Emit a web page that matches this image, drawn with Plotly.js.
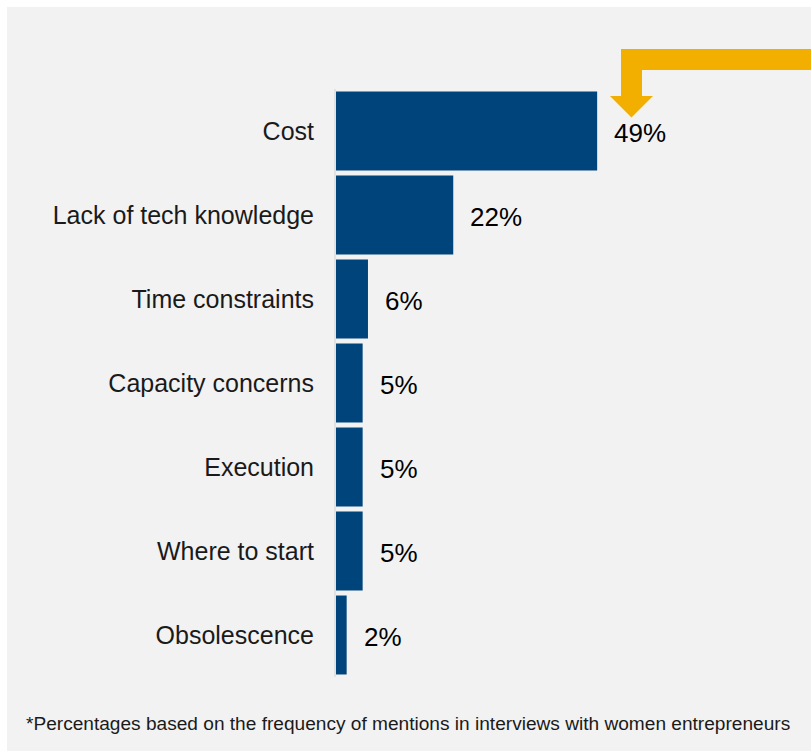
<!DOCTYPE html>
<html>
<head>
<meta charset="utf-8">
<script src="https://cdn.plot.ly/plotly-3.0.1.min.js"></script>
<style>
  html, body { margin: 0; padding: 0; background: #ffffff; overflow: hidden; }
  #chart { position: absolute; left: 7px; top: 7px; width: 804px; height: 744px; }
</style>
</head>
<body>
<div id="chart"></div>
<script>
// ---- data ----
const categories = ["Cost", "Lack of tech knowledge", "Time constraints", "Capacity concerns", "Execution", "Where to start", "Obsolescence"];
const values = [49, 22, 6, 5, 5, 5, 2];
const valueLabels = ["49%", "22%", "6%", "5%", "5%", "5%", "2%"];
const footnote = "*Percentages based on the frequency of mentions in interviews with women entrepreneurs";

// ---- layout geometry ----
const W = 804, H = 744;
const M = {l: 329, r: 6, t: 82, b: 74};
const PW = W - M.l - M.r, PH = H - M.t - M.b;
const OFF = 7; // page offset of the chart div
function px(x) { return (x - OFF - M.l) / PW; }
function py(y) { return 1 - (y - OFF - M.t) / PH; }

const arrowPts = [[830, 49], [621, 49], [621, 96], [610, 96], [631.5, 117.5], [653, 96], [642, 96], [642, 70], [830, 70]];
const arrowPath = arrowPts.map((p, i) => (i ? "L" : "M") + px(p[0]).toFixed(5) + "," + py(p[1]).toFixed(5)).join(" ") + " Z";

const trace = {
  type: "bar",
  orientation: "h",
  y: categories,
  x: values,
  marker: {color: "#00447C"},
  hoverinfo: "none"
};

const annotations = categories.map((c, i) => ({
  x: values[i], y: c, xref: "x", yref: "y",
  text: valueLabels[i], showarrow: false,
  xanchor: "left", yanchor: "middle", xshift: 15, yshift: -2,
  font: {family: "Liberation Sans, Arial, sans-serif", size: 26, color: "#000000"}
}));
annotations.push({
  xref: "paper", yref: "paper",
  x: px(24), y: py(723),
  xanchor: "left", yanchor: "middle",
  text: footnote, showarrow: false,
  font: {family: "Liberation Sans, Arial, sans-serif", size: 19.1, color: "#1a1a1a"}
});

const layout = {
  width: W, height: H,
  margin: M,
  paper_bgcolor: "#f2f2f2",
  plot_bgcolor: "#f2f2f2",
  showlegend: false,
  bargap: 0.06,
  xaxis: {
    range: [0, 88], showgrid: false, zeroline: false,
    showticklabels: false, ticks: "", showline: false, fixedrange: true
  },
  yaxis: {
    autorange: "reversed", showgrid: false, zeroline: false,
    showline: true, linecolor: "#e2e2e2", linewidth: 2,
    ticks: "", ticklabelstandoff: 15,
    tickfont: {family: "Liberation Sans, Arial, sans-serif", size: 25, color: "#1a1a1a"},
    fixedrange: true
  },
  shapes: [{
    type: "path", xref: "paper", yref: "paper",
    path: arrowPath, fillcolor: "#F2AF00", line: {width: 0}, layer: "above"
  }],
  annotations: annotations
};

Plotly.newPlot("chart", [trace], layout, {displayModeBar: false, staticPlot: true});
</script>
</body>
</html>
